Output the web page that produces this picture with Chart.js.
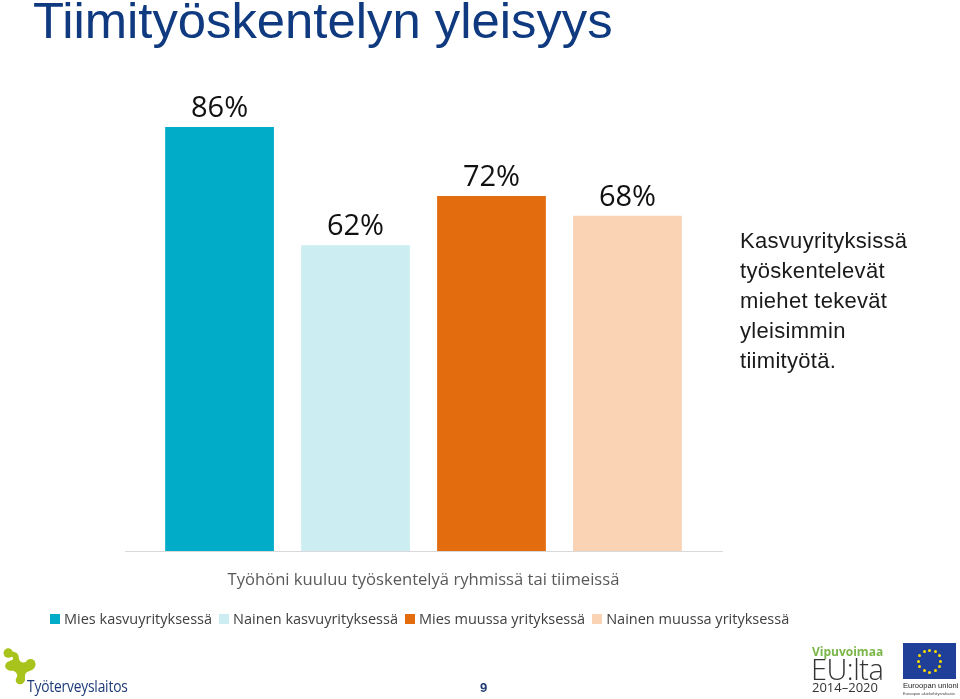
<!DOCTYPE html>
<html>
<head>
<meta charset="utf-8">
<script src="https://cdn.jsdelivr.net/npm/chart.js@4/dist/chart.umd.min.js"></script>
<style>
  html,body{margin:0;padding:0;background:#fff;}
  body{width:960px;height:699px;position:relative;overflow:hidden;}
  #wrap{position:absolute;left:0;top:0;width:960px;height:699px;}
  #title{position:absolute;left:33px;top:-4px;font-family:"Liberation Sans",Arial,sans-serif;font-size:50.8px;line-height:50px;color:#0f3a80;white-space:nowrap;}
  #note{position:absolute;left:740px;top:226px;font-family:"Liberation Sans",Arial,sans-serif;font-size:22px;line-height:30px;color:#1a1a1a;letter-spacing:0.3px;}
  #legend{position:absolute;left:50px;top:609px;font-family:"Open Sans",sans-serif;font-size:14.5px;color:#404040;white-space:nowrap;display:flex;align-items:center;}
  #legend .it{display:flex;align-items:center;margin-right:7px;}
  #legend .sw{width:10px;height:10px;margin-right:4px;}
  #page{position:absolute;left:480px;top:680px;font-family:"Liberation Sans",Arial,sans-serif;font-size:13px;font-weight:bold;color:#1f3a70;}
  #ttl{position:absolute;left:27px;top:675px;font-family:"Open Sans",sans-serif;font-size:16px;font-weight:500;color:#1d3a78;letter-spacing:-0.2px;transform:scaleX(0.86);transform-origin:0 0;white-space:nowrap;}
  #vip{position:absolute;left:812px;top:643px;font-family:"Open Sans",sans-serif;font-size:12px;font-weight:bold;color:#7ab648;}
  #eul{position:absolute;left:811px;top:649px;font-family:"Open Sans",sans-serif;font-size:29px;font-weight:300;color:#333;letter-spacing:-0.5px;}
  #yrs{position:absolute;left:812px;top:678px;font-family:"Open Sans",sans-serif;font-size:13px;color:#333;white-space:nowrap;}
  #flag{position:absolute;left:903px;top:643px;width:53px;height:36px;background:#1f3f98;}
  #eu1{position:absolute;left:903px;top:681px;font-family:"Liberation Sans",Arial,sans-serif;font-size:7.6px;color:#222;white-space:nowrap;}
  #eu2{position:absolute;left:903px;top:691px;font-family:"Liberation Sans",Arial,sans-serif;font-size:4px;color:#444;white-space:nowrap;}
  .star{position:absolute;width:3px;height:3px;background:#ffdd00;border-radius:50%;}
</style>
</head>
<body>
<div id="wrap"><canvas id="c" width="960" height="699"></canvas></div>
<div id="title">Tiimityöskentelyn yleisyys</div>
<div id="note">Kasvuyrityksissä<br>työskentelevät<br>miehet tekevät<br>yleisimmin<br>tiimityötä.</div>
<div id="legend"></div>
<svg style="position:absolute;left:0;top:647px" width="40" height="38" viewBox="0 0 34 32">
  <path d="M6 6 C10 2,16 4,16 9 C16 13,20 14,23 12 C26 10,31 12,30 16 C29 20,24 20,22 22 C20 25,23 29,19 31 C15 33,12 29,14 26 C16 23,13 20,10 20 C6 20,3 17,5 14 C7 11,12 12,11 9 C10 7,5 9,6 6 Z" fill="#a8c41c"/>
  <circle cx="7" cy="5" r="4" fill="#a8c41c"/>
  <circle cx="26" cy="14" r="4" fill="#a8c41c"/>
</svg>
<div id="ttl">Työterveyslaitos</div>
<div id="page">9</div>
<div id="vip">Vipuvoimaa</div>
<div id="eul">EU:lta</div>
<div id="yrs">2014–2020</div>
<div id="flag"></div>
<div id="eu1">Euroopan unioni</div>
<div id="eu2">Euroopan aluekehitysrahasto</div>
<script>
const categories = ["Työhöni kuuluu työskentelyä ryhmissä tai tiimeissä"];
const seriesNames = ["Mies kasvuyrityksessä", "Nainen kasvuyrityksessä", "Mies muussa yrityksessä", "Nainen muussa yrityksessä"];
const seriesValues = [[86], [62], [72], [68]];
const seriesColors = ["#00acc8", "#ccedf1", "#e36c0e", "#fad3b4"];

// EU stars
(function(){
  const flag = document.getElementById('flag');
  for (let i = 0; i < 12; i++) {
    const a = i * Math.PI / 6;
    const s = document.createElement('div');
    s.className = 'star';
    s.style.left = (26.5 + 11 * Math.cos(a) - 1.5) + 'px';
    s.style.top = (18 + 11 * Math.sin(a) - 1.5) + 'px';
    flag.appendChild(s);
  }
})();

// legend
const leg = document.getElementById('legend');
seriesNames.forEach((n, i) => {
  const it = document.createElement('div'); it.className = 'it';
  const sw = document.createElement('div'); sw.className = 'sw'; sw.style.background = seriesColors[i];
  const tx = document.createElement('span'); tx.textContent = n;
  it.appendChild(sw); it.appendChild(tx); leg.appendChild(it);
});

const labelPlugin = {
  id: 'valLabels',
  afterDatasetsDraw(chart) {
    const ctx = chart.ctx;
    ctx.save();
    ctx.font = '29px "Open Sans", sans-serif';
    ctx.fillStyle = '#111';
    ctx.textAlign = 'center';
    ctx.textBaseline = 'alphabetic';
    chart.data.datasets.forEach((ds, di) => {
      chart.getDatasetMeta(di).data.forEach((bar, i) => {
        ctx.fillText(ds.data[i] + '%', bar.x, bar.y - 10);
      });
    });
    ctx.restore();
  }
};

new Chart(document.getElementById('c'), {
  type: 'bar',
  data: {
    labels: categories,
    datasets: seriesNames.map((n, i) => ({
      label: n,
      data: seriesValues[i],
      backgroundColor: seriesColors[i],
      borderWidth: 0,
      categoryPercentage: 0.911,
      barPercentage: 0.8
    }))
  },
  options: {
    responsive: false,
    animation: false,
    layout: { padding: { left: 125, right: 238, top: 58, bottom: 108 } },
    plugins: { legend: { display: false }, tooltip: { enabled: false } },
    scales: {
      x: {
        grid: { display: false },
        border: { display: true, color: '#d9d9d9', width: 1 },
        ticks: { color: '#595959', font: { family: '"Open Sans", sans-serif', size: 16.6 }, padding: 11 },
        afterFit(scale) { scale.height = 40; }
      },
      y: { display: false, min: 0, max: 100 }
    }
  },
  plugins: [labelPlugin]
});
</script>
</body>
</html>
